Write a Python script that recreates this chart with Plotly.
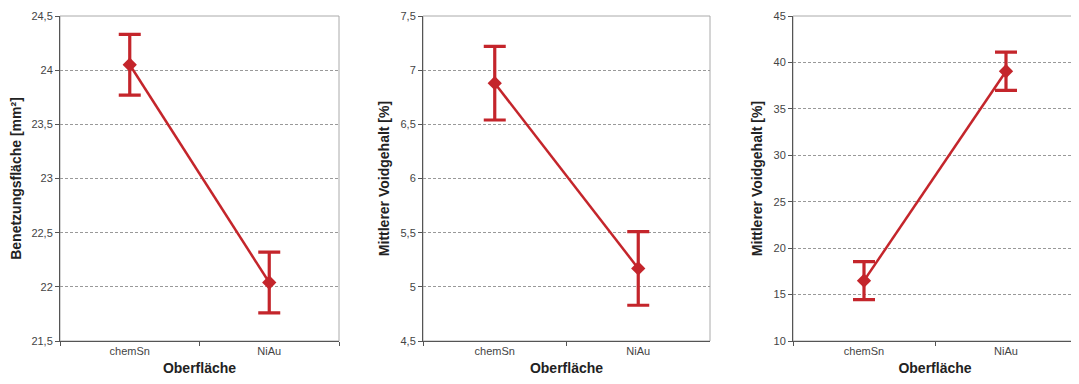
import plotly.graph_objects as go

categories = ["chemSn", "NiAu"]

wetting_area = [24.05, 22.04]
wetting_err = [0.28, 0.28]

void_a = [6.88, 5.17]
void_a_err = [0.34, 0.34]

void_b = [16.5, 39.05]
void_b_err = [2.05, 2.05]

y_titles = ["Benetzungsfläche [mm²]", "Mittlerer Voidgehalt [%]", "Mittlerer Voidgehalt [%]"]
x_title = "Oberfläche"
y_ranges = [[21.5, 24.5], [4.5, 7.5], [10, 45]]
y_dticks = [0.5, 0.5, 5]

series = [(wetting_area, wetting_err), (void_a, void_a_err), (void_b, void_b_err)]

# page has an 8px body margin; positions below are figure-relative
W, H = 1079, 384
OFF = 8
x_domains = [[(60 - OFF) / W, (339 - OFF) / W],
             [(423 - OFF) / W, (710 - OFF) / W],
             [(793 - OFF) / W, (1077 - OFF) / W]]
y_domain = [1 - (341 - OFF) / H, 1 - (16 - OFF) / H]

RED = "#C4252B"
FONT = "Liberation Sans, Arial"
fig = go.Figure()

for i, (vals, errs) in enumerate(series):
    n = "" if i == 0 else str(i + 1)
    fig.add_trace(go.Scatter(
        x=categories, y=vals,
        xaxis="x" + n, yaxis="y" + n,
        mode="lines+markers",
        line=dict(color=RED, width=2.5),
        marker=dict(symbol="diamond", size=11, color=RED),
        error_y=dict(type="data", array=errs, visible=True, color=RED,
                     thickness=3.2, width=11),
        showlegend=False,
    ))
    fig.update_layout(**{
        "xaxis" + n: dict(
            domain=x_domains[i], anchor="y" + n, type="category",
            categoryorder="array", categoryarray=categories,
            range=[-0.5, 1.5], automargin=False,
            tickson="boundaries", ticks="outside", ticklen=4,
            tickcolor="#555", showline=True, linecolor="#555", linewidth=1,
            showgrid=False, zeroline=False,
            tickfont=dict(family=FONT, size=11, color="#444"),
            title=dict(text="<b>" + x_title + "</b>", standoff=6,
                       font=dict(family=FONT, size=14, color="#222")),
        ),
        "yaxis" + n: dict(
            domain=y_domain, anchor="x" + n, range=y_ranges[i], dtick=y_dticks[i],
            automargin=False,
            ticks="outside", ticklen=4, tickcolor="#555",
            showline=True, linecolor="#555", linewidth=1,
            showgrid=True, gridcolor="#999", griddash="3px,2px", gridwidth=1,
            zeroline=False,
            tickfont=dict(family=FONT, size=11, color="#444"),
            title=dict(text="<b>" + y_titles[i] + "</b>", standoff=7,
                       font=dict(family=FONT, size=14, color="#222")),
        ),
    })
    fig.add_shape(type="rect", xref="x" + n + " domain", yref="y" + n + " domain",
                  x0=0, x1=1, y0=0, y1=1, line=dict(color="#aaa", width=1), layer="below")

fig.update_layout(
    width=W, height=H,
    margin=dict(l=0, r=0, t=0, b=0, autoexpand=False),
    paper_bgcolor="white", plot_bgcolor="white",
    separators=",.",
)

fig.write_html("out.html")
